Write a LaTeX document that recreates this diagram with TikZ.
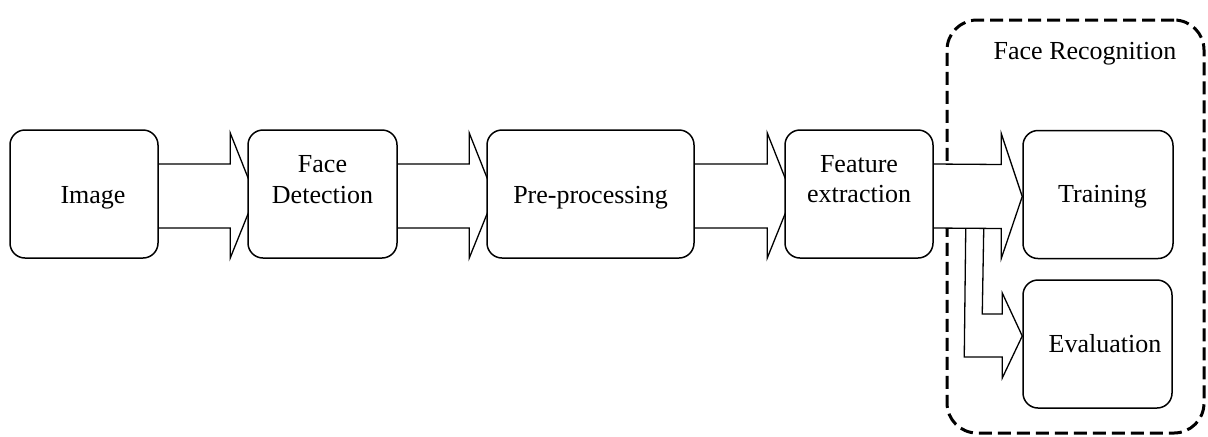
\documentclass[tikz,border=0pt]{standalone}
\usepackage{fontspec}
\setmainfont{Liberation Serif}
\usetikzlibrary{calc,backgrounds}
\newcommand\flowarr[5]{% #1 from, #2 to, #3 overshoot, #4 head length, #5 tip name
  \coordinate (#5) at ($(#2.west)+(#3,2)$);
  \draw[flow] ($(#1.east)+(0,-30)$) -- ($(#5)+(-#4,-32)$) -- ($(#5)+(-#4,-63)$) -- (#5)
     -- ($(#5)+(-#4,62)$) -- ($(#5)+(-#4,32)$) -- ($(#1.east)+(0,34)$);
}
\begin{document}
\begin{tikzpicture}[x=0.5pt,y=-0.5pt,
  box/.style={draw=black, line width=0.75pt, fill=white, rounded corners=7.5pt,
              minimum height=64pt, inner sep=0pt},
  txt/.style={font=\fontsize{13pt}{15.5pt}\selectfont, anchor=base, inner sep=0pt},
  flow/.style={draw=black, line width=0.65pt, fill=white, line join=miter},
  frame/.style={draw=black, line width=1.5pt, dash pattern=on 6.5pt off 3pt,
                rounded corners=15pt, inner sep=0pt}]
\useasboundingbox (0,0) rectangle (1208,436);
% boxes
\node[box, minimum width=74pt]   (img) at (84,194)     {};
\node[box, minimum width=74.5pt] (fd)  at (322.5,194)  {};
\node[box, minimum width=103.5pt](pp)  at (590.5,194)  {};
\node[box, minimum width=74pt]   (fe)  at (859,194)    {};
\node[box, minimum width=75pt]   (tr)  at (1098,194.5) {};
\node[box, minimum width=74.5pt] (ev)  at (1097.5,344) {};
% texts
\node[txt] (imgT) at ($(img.center)+(9,9)$) {Image};
\node[txt] (fdT1) at ($(fd.center)+(0,-22)$) {Face};
\node[txt] (fdT2) at ($(fd.center)+(0,9)$) {Detection};
\node[txt] (ppT)  at ($(pp.center)+(0,9)$) {Pre-processing};
\node[txt] (feT1) at ($(fe.center)+(0,-22)$) {Feature};
\node[txt] (feT2) at ($(fe.center)+(0,8)$) {extraction};
\node[txt] (trT)  at ($(tr.center)+(4.5,7.5)$) {Training};
\node[txt] (evT)  at ($(ev.center)+(7.5,8)$) {Evaluation};
\node[txt] (frT)  at (1085,59) {Face Recognition};
\begin{pgfonlayer}{background}
  \node[frame, minimum width=128.5pt, minimum height=206.5pt] (fr) at (1075.5,226.5) {};
  % branch arrow to evaluation
  \coordinate (tv) at ($(ev.west)+(0,-8)$);
  \draw[flow] ($(fe.east)+(32,34)$) -- ($(tv)+(-58,21)$) -- ($(tv)+(-20,21)$) -- ($(tv)+(-20,42)$)
     -- (tv) -- ($(tv)+(-20,-43)$) -- ($(tv)+(-20,-22)$) -- ($(tv)+(-40,-22)$)
     -- ($(fe.east)+(50,34)$) -- cycle;
  \flowarr{img}{fd}{8}{25}{t1}
  \flowarr{fd}{pp}{8}{25}{t2}
  \flowarr{pp}{fe}{8}{25}{t3}
  \flowarr{fe}{tr}{0}{21}{t4}
\end{pgfonlayer}
\end{tikzpicture}
\end{document}
